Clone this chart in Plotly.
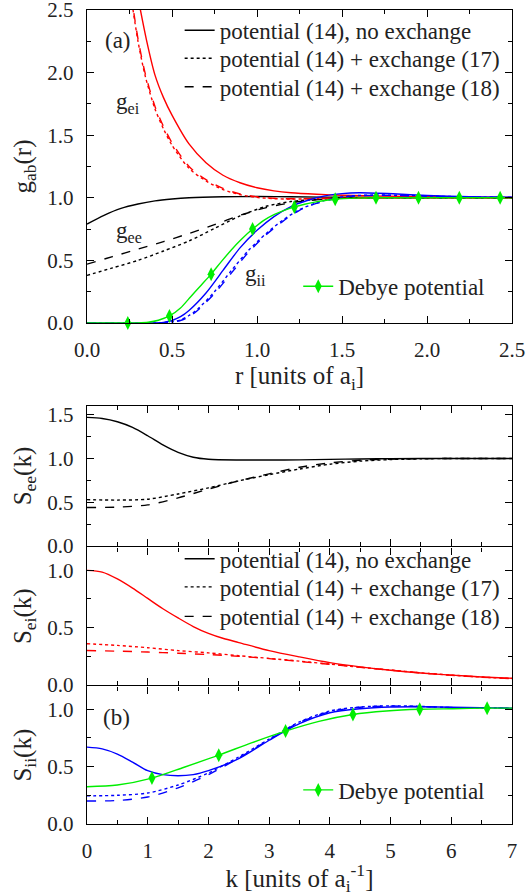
import plotly.graph_objects as go

# ---------------- data: panel (a) g_ab(r) ----------------
r_ee = [0, 0.1, 0.2, 0.3, 0.4, 0.5, 0.6, 0.8, 1.0, 1.2, 1.5, 2.0, 2.5]
g_ee_noex = [0.79, 0.86, 0.915, 0.95, 0.975, 0.99, 1.0, 1.008, 1.01, 1.008, 1.004, 1.001, 1.0]
r_ee_x = [0, 0.15, 0.3, 0.45, 0.6, 0.75, 0.9, 1.05, 1.2, 1.4, 1.6, 2.0, 2.5]
g_ee_ex17 = [0.38, 0.44, 0.50, 0.575, 0.655, 0.755, 0.855, 0.93, 0.97, 0.99, 1.0, 1.0, 1.0]
g_ee_ex18 = [0.47, 0.53, 0.59, 0.65, 0.715, 0.785, 0.86, 0.92, 0.96, 0.99, 1.0, 1.0, 1.0]

r_ei = [0.30, 0.35, 0.40, 0.45, 0.5, 0.6, 0.7, 0.8, 0.9, 1.0, 1.1, 1.2, 1.35, 1.5, 1.75, 2.0, 2.5]
g_ei_noex = [2.6, 2.26, 1.98, 1.80, 1.66, 1.43, 1.28, 1.18, 1.12, 1.08, 1.055, 1.04, 1.028, 1.02, 1.013, 1.008, 1.003]
r_ei_x = [0.26, 0.30, 0.343, 0.4, 0.45, 0.5, 0.6, 0.7, 0.8, 0.9, 1.0, 1.1, 1.2, 1.35, 1.5, 2.0, 2.5]
g_ei_ex17 = [2.6, 2.25, 1.97, 1.71, 1.55, 1.42, 1.235, 1.135, 1.065, 1.025, 1.003, 0.993, 0.99, 0.993, 0.997, 1.0, 1.0]
g_ei_ex18 = [2.62, 2.27, 1.99, 1.73, 1.57, 1.44, 1.25, 1.145, 1.075, 1.03, 1.008, 0.996, 0.992, 0.994, 0.997, 1.0, 1.0]

r_ii = [0, 0.35, 0.45, 0.5, 0.55, 0.6, 0.7, 0.8, 0.9, 1.0, 1.1, 1.2, 1.3, 1.4, 1.5, 1.6, 1.8, 2.0, 2.25, 2.5]
g_ii_noex = [0, 0, 0.005, 0.02, 0.05, 0.10, 0.24, 0.42, 0.60, 0.74, 0.85, 0.93, 0.98, 1.015, 1.033, 1.04, 1.032, 1.018, 1.008, 1.004]
r_ii_x = [0, 0.4, 0.5, 0.55, 0.6, 0.65, 0.75, 0.85, 0.95, 1.05, 1.15, 1.25, 1.35, 1.45, 1.55, 1.7, 1.9, 2.2, 2.5]
g_ii_ex17 = [0, 0, 0.01, 0.025, 0.06, 0.11, 0.25, 0.42, 0.58, 0.71, 0.82, 0.905, 0.96, 0.995, 1.015, 1.022, 1.018, 1.008, 1.003]
g_ii_ex18 = [0, 0, 0.008, 0.02, 0.05, 0.10, 0.235, 0.40, 0.565, 0.70, 0.81, 0.90, 0.955, 0.99, 1.012, 1.02, 1.016, 1.007, 1.003]

r_deb = [0, 0.24, 0.3, 0.36, 0.42, 0.485, 0.55, 0.61, 0.67, 0.73, 0.79, 0.85, 0.91, 0.974, 1.04,
         1.1, 1.16, 1.22, 1.28, 1.34, 1.4, 1.46, 1.58, 1.70, 1.95, 2.19, 2.43, 2.5]
g_deb = [0, 0, 0.001, 0.006, 0.022, 0.056, 0.12, 0.21, 0.30, 0.39, 0.49, 0.585, 0.67, 0.75, 0.82,
         0.865, 0.90, 0.927, 0.948, 0.965, 0.978, 0.988, 0.997, 1.0, 1.0, 1.0, 1.0, 1.0]
r_deb_mk = [0.24, 0.485, 0.73, 0.974, 1.22, 1.46, 1.70, 1.95, 2.19, 2.43]
g_deb_mk = [0, 0.056, 0.39, 0.75, 0.927, 0.988, 1.0, 1.0, 1.0, 1.0]

# ---------------- data: panel (b) S_ab(k) ----------------
k_see = [0, 0.25, 0.5, 0.75, 1.0, 1.25, 1.5, 1.75, 2.0, 2.5, 3.0, 3.5, 4.0, 4.5, 5, 6, 7]
S_ee_noex = [1.47, 1.457, 1.42, 1.355, 1.26, 1.155, 1.07, 1.015, 0.992, 0.983, 0.983, 0.985, 0.99, 0.995, 0.998, 1.0, 1.0]
k_see_x = [0, 0.5, 1.0, 1.5, 2.0, 2.5, 3.0, 3.5, 4.0, 4.5, 5.0, 5.5, 6, 7]
S_ee_ex17 = [0.53, 0.525, 0.535, 0.595, 0.665, 0.745, 0.815, 0.88, 0.935, 0.97, 0.988, 0.996, 1.0, 1.0]
S_ee_ex18 = [0.44, 0.445, 0.47, 0.55, 0.65, 0.745, 0.825, 0.9, 0.95, 0.98, 0.993, 0.998, 1.0, 1.0]

k_sei = [0, 0.25, 0.5, 0.75, 1.0, 1.25, 1.5, 1.75, 2.0, 2.25, 2.5, 3.0, 3.5, 4.0, 4.5, 5.0, 5.5, 6.0, 6.5, 7.0]
S_ei_noex = [1.0, 0.985, 0.925, 0.845, 0.755, 0.665, 0.585, 0.51, 0.45, 0.405, 0.37, 0.30, 0.245, 0.195,
             0.158, 0.128, 0.104, 0.086, 0.07, 0.058]
k_sei_x = [0, 0.5, 1, 1.5, 2, 2.5, 3, 3.5, 4, 4.5, 5, 5.5, 6, 6.5, 7]
S_ei_ex17 = [0.36, 0.345, 0.325, 0.30, 0.28, 0.255, 0.232, 0.208, 0.182, 0.155, 0.13, 0.106, 0.086, 0.069, 0.056]
S_ei_ex18 = [0.30, 0.295, 0.287, 0.277, 0.265, 0.25, 0.23, 0.205, 0.18, 0.154, 0.129, 0.105, 0.085, 0.068, 0.055]

k_sii = [0, 0.25, 0.5, 0.75, 1.0, 1.25, 1.5, 1.75, 2.0, 2.5, 3.0, 3.5, 4.0, 4.5, 5.0, 5.5, 6.0, 7.0]
S_ii_noex = [0.67, 0.655, 0.61, 0.54, 0.465, 0.43, 0.42, 0.43, 0.465, 0.57, 0.73, 0.875, 0.97, 1.005, 1.02, 1.022, 1.018, 1.01]
k_sii_x = [0, 0.5, 1.0, 1.5, 2.0, 2.5, 3.0, 3.5, 4.0, 4.5, 5.0, 5.5, 6.0, 7.0]
S_ii_ex17 = [0.245, 0.25, 0.27, 0.34, 0.445, 0.585, 0.74, 0.89, 0.985, 1.02, 1.03, 1.025, 1.015, 1.01]
S_ii_ex18 = [0.2, 0.205, 0.235, 0.315, 0.43, 0.575, 0.735, 0.885, 0.98, 1.018, 1.028, 1.024, 1.015, 1.01]

k_deb = [0, 0.5, 1.07, 1.6, 2.17, 2.72, 3.27, 3.82, 4.38, 4.93, 5.48, 6.03, 6.59, 7.0]
S_deb = [0.325, 0.34, 0.40, 0.495, 0.60, 0.71, 0.81, 0.895, 0.955, 0.985, 1.0, 1.005, 1.01, 1.01]
k_deb_mk = [1.07, 2.17, 3.27, 4.38, 5.48, 6.59]
S_deb_mk = [0.40, 0.60, 0.81, 0.955, 1.0, 1.01]

legend_labels = ["potential (14), no exchange", "potential (14) + exchange (17)",
                 "potential (14) + exchange (18)"]
dash_styles = ["solid", "dot", "dash"]

RED, BLUE, GREEN, BLACK = "#ff0000", "#0000ff", "#00ee00", "#000000"
FONT = "Liberation Serif"
TXT = "#222222"
LW = 1.4

fig = go.Figure()


def curve(x, y, color, dash, xa, ya):
    fig.add_trace(go.Scatter(x=x, y=y, mode="lines", xaxis=xa, yaxis=ya, showlegend=False,
                             line=dict(color=color, width=LW, dash=dash, shape="spline", smoothing=0.8),
                             hoverinfo="skip"))


# panel (a)
curve(r_ee, g_ee_noex, BLACK, "solid", "x", "y")
curve(r_ee_x, g_ee_ex17, BLACK, "dot", "x", "y")
curve(r_ee_x, g_ee_ex18, BLACK, "dash", "x", "y")
curve(r_ei, g_ei_noex, RED, "solid", "x", "y")
curve(r_ei_x, g_ei_ex17, RED, "dot", "x", "y")
curve(r_ei_x, g_ei_ex18, RED, "dash", "x", "y")
curve(r_ii, g_ii_noex, BLUE, "solid", "x", "y")
curve(r_ii_x, g_ii_ex17, BLUE, "dot", "x", "y")
curve(r_ii_x, g_ii_ex18, BLUE, "dash", "x", "y")
curve(r_deb, g_deb, GREEN, "solid", "x", "y")
fig.add_trace(go.Scatter(x=r_deb_mk, y=g_deb_mk, mode="markers", xaxis="x", yaxis="y", showlegend=False,
                         marker=dict(symbol="diamond-tall", size=10, color=GREEN), cliponaxis=False,
                         hoverinfo="skip"))

# panel (b)
curve(k_see, S_ee_noex, BLACK, "solid", "x2", "y2")
curve(k_see_x, S_ee_ex17, BLACK, "dot", "x2", "y2")
curve(k_see_x, S_ee_ex18, BLACK, "dash", "x2", "y2")
curve(k_sei, S_ei_noex, RED, "solid", "x3", "y3")
curve(k_sei_x, S_ei_ex17, RED, "dot", "x3", "y3")
curve(k_sei_x, S_ei_ex18, RED, "dash", "x3", "y3")
curve(k_sii, S_ii_noex, BLUE, "solid", "x4", "y4")
curve(k_sii_x, S_ii_ex17, BLUE, "dot", "x4", "y4")
curve(k_sii_x, S_ii_ex18, BLUE, "dash", "x4", "y4")
curve(k_deb, S_deb, GREEN, "solid", "x4", "y4")
fig.add_trace(go.Scatter(x=k_deb_mk, y=S_deb_mk, mode="markers", xaxis="x4", yaxis="y4", showlegend=False,
                         marker=dict(symbol="diamond-tall", size=10, color=GREEN), hoverinfo="skip"))

# legend-only entries: one single-row legend per entry, so rows can be spaced as in the original
legend_ids_a = ["legend", "legend2", "legend3"]
legend_ids_b = ["legend4", "legend5", "legend6"]
for ids, xa, ya in ((legend_ids_a, "x", "y"), (legend_ids_b, "x3", "y3")):
    for lg, lab, ds in zip(ids, legend_labels, dash_styles):
        fig.add_trace(go.Scatter(x=[None], y=[None], mode="lines", name=lab, legend=lg, xaxis=xa, yaxis=ya,
                                 line=dict(color=BLACK, width=LW, dash=ds)))
for lg, xa, ya in (("legend7", "x", "y"), ("legend8", "x4", "y4")):
    fig.add_trace(go.Scatter(x=[None], y=[None], mode="lines+markers", name="Debye potential", legend=lg,
                             xaxis=xa, yaxis=ya, line=dict(color=GREEN, width=LW),
                             marker=dict(symbol="diamond-tall", size=10, color=GREEN)))


def ax(rng, dtick, minor, fmt, **kw):
    d = dict(range=rng, dtick=dtick, tick0=0, tickformat=fmt, ticks="inside", ticklen=7, tickwidth=1.2,
             tickcolor=BLACK, mirror="allticks", showline=True, linecolor=BLACK, linewidth=1.4,
             showgrid=False, zeroline=False, ticklabelstandoff=8, automargin=False,
             ticklabeloverflow="allow",
             tickfont=dict(family=FONT, size=21, color=TXT),
             minor=dict(dtick=minor, ticks="inside", ticklen=4, tickwidth=1.2, tickcolor=BLACK, showgrid=False))
    d.update(kw)
    return d


TF = dict(family=FONT, size=25, color=TXT)
fig.update_layout(
    width=527, height=896, margin=dict(l=87, r=15, t=10, b=72, autoexpand=False),
    paper_bgcolor="white", plot_bgcolor="white",
    font=dict(family=FONT, color=TXT),
    xaxis=ax([0, 2.5], 0.5, 0.25, ".1f", anchor="y", domain=[0, 1],
             title=dict(text="r [units of a<sub>i</sub>]", font=TF, standoff=2)),
    yaxis=ax([0, 2.5], 0.5, 0.25, ".1f", anchor="x", domain=[0.6155, 1],
             title=dict(text="g<sub>ab</sub>(r)", font=TF, standoff=8)),
    xaxis2=ax([0, 7], 1, 0.5, "d", anchor="y2", domain=[0, 1], showticklabels=False),
    yaxis2=ax([0, 1.6], 0.5, 0.25, ".1f", anchor="x2", domain=[0.3415, 0.5135],
              title=dict(text="S<sub>ee</sub>(k)", font=TF, standoff=8)),
    xaxis3=ax([0, 7], 1, 0.5, "d", anchor="y3", domain=[0, 1], showticklabels=False),
    yaxis3=ax([0, 1.2], 0.5, 0.25, ".1f", anchor="x3", domain=[0.1708, 0.3398],
              title=dict(text="S<sub>ei</sub>(k)", font=TF, standoff=8)),
    xaxis4=ax([0, 7], 1, 0.5, "d", anchor="y4", domain=[0, 1],
              title=dict(text="k [units of a<sub>i</sub><sup>-1</sup>]", font=TF, standoff=6)),
    yaxis4=ax([0, 1.2], 0.5, 0.25, ".1f", anchor="x4", domain=[0, 0.1691],
              title=dict(text="S<sub>ii</sub>(k)", font=TF, standoff=8)),
)

LEG = dict(bgcolor="rgba(0,0,0,0)", borderwidth=0, font=dict(family=FONT, size=23, color=TXT),
           xanchor="left", yanchor="middle", itemwidth=30)
rows_a = [0.9750, 0.9406, 0.9057]
rows_b = [0.3258, 0.2912, 0.2550]
lay = {}
for lg, yv in zip(legend_ids_a, rows_a):
    lay[lg] = dict(LEG, x=0.218, y=yv)
for lg, yv in zip(legend_ids_b, rows_b):
    lay[lg] = dict(LEG, x=0.218, y=yv)
lay["legend7"] = dict(LEG, x=0.497, y=0.6605)
lay["legend8"] = dict(LEG, x=0.497, y=0.0418)
fig.update_layout(**lay)

AF = dict(family=FONT, size=23, color=TXT)
notes = [("(a)", "x", "y", 0.18, 2.26), ("g<sub>ei</sub>", "x", "y", 0.24, 1.76),
         ("g<sub>ee</sub>", "x", "y", 0.248, 0.73), ("g<sub>ii</sub>", "x", "y", 0.993, 0.383),
         ("(b)", "x4", "y4", 0.48, 0.93)]
for t, xr, yr, xv, yv in notes:
    fig.add_annotation(text=t, x=xv, y=yv, xref=xr, yref=yr, showarrow=False, font=AF)

fig.write_html("out.html")
